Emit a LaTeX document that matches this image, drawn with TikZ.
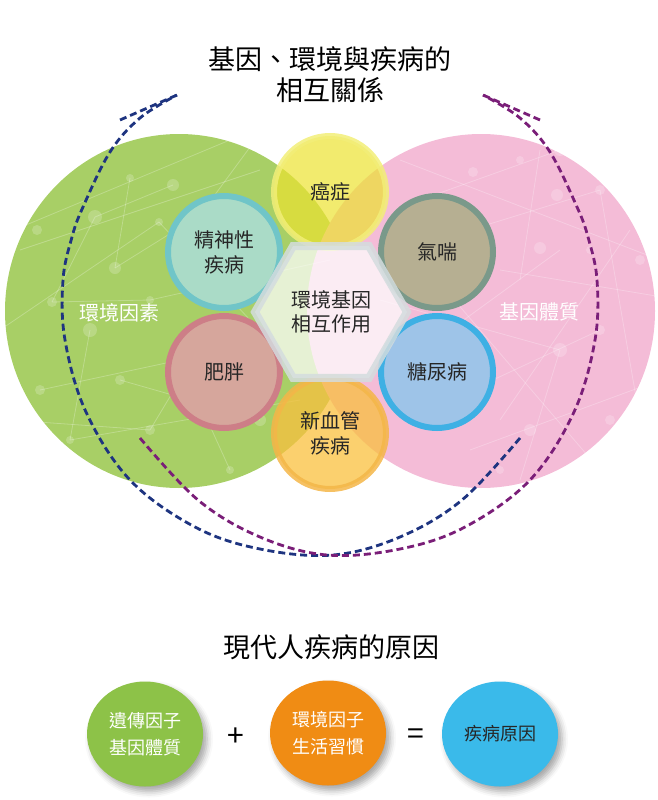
\documentclass[tikz,border=0pt]{standalone}
\usepackage{fontspec}
\setmainfont{Noto Sans CJK TC}
\usepackage{tikz}
\usetikzlibrary{shapes.geometric,shadows.blur}
\definecolor{envgreen}{RGB}{168,207,102}
\definecolor{genepink}{RGB}{244,188,215}
\definecolor{mindfill}{RGB}{170,219,199}
\definecolor{mindring}{RGB}{112,197,200}
\definecolor{asthmafill}{RGB}{182,175,146}
\definecolor{asthmaring}{RGB}{122,153,138}
\definecolor{obesefill}{RGB}{214,166,156}
\definecolor{obesering}{RGB}{205,126,135}
\definecolor{diabfill}{RGB}{158,196,232}
\definecolor{diabring}{RGB}{62,176,228}
\definecolor{cancerfill}{RGB}{236,226,48}
\definecolor{cancerring}{RGB}{242,238,120}
\definecolor{vesselfill}{RGB}{249,192,62}
\definecolor{vesselring}{RGB}{244,182,72}
\definecolor{hexring}{RGB}{212,220,222}
\definecolor{navyline}{RGB}{30,52,128}
\definecolor{plumline}{RGB}{122,30,120}
\definecolor{genecause}{RGB}{141,194,72}
\definecolor{lifecause}{RGB}{240,140,20}
\definecolor{sickcause}{RGB}{58,186,234}

\begin{document}
\begin{tikzpicture}[x=1pt,y=-1pt,
  disease/.style={circle,minimum size=112pt,inner sep=0pt,line width=6pt,
    font=\fontsize{20}{25}\selectfont,align=center,text=black!85},
  cause/.style={ellipse,minimum width=116pt,minimum height=105pt,inner sep=0pt,
    font=\fontsize{18}{27}\selectfont,align=center,
    blur shadow={shadow xshift=4pt,shadow yshift=-5pt,shadow blur radius=6pt,shadow opacity=35}},
  cycleline/.style={dash pattern=on 7pt off 4pt,line width=2.8pt},
  netline/.style={white,opacity=.25,line width=.8pt},
  bigtitle/.style={font=\fontsize{27}{31}\selectfont,align=center}]
\useasboundingbox (0,0) rectangle (658,800);
%\fill[white] (0,0) rectangle (658,800);

\node[bigtitle] (title) at (330,75) {基因、環境與疾病的\\相互關係};

% the two backgrounds
\fill[envgreen] (179,311) ellipse [x radius=174, y radius=177];
\fill[genepink] (481,311) ellipse [x radius=174, y radius=177];
\begin{scope}
\clip (179,311) ellipse [x radius=174, y radius=177];
\foreach \xa/\ya/\xb/\yb in {-10/240/230/140, 0/330/159/222, 20/250/260/170,
  52/302/95/217, 95/217/173/185, 130/178/115/268, 115/268/200/215,
  159/222/250/320, 52/302/150/300, 150/300/330/260, 40/390/180/360,
  90/330/70/440, 120/380/260/420, 180/360/230/470, 70/440/300/400,
  10/420/150/430, 210/330/150/430, 200/215/270/120}
  \draw[netline] (\xa,\ya) -- (\xb,\yb);
\foreach \x/\y/\r in {37/230/5, 95/217/7, 130/178/4, 173/185/6, 159/222/4,
  115/268/6, 52/302/5, 150/300/4, 90/330/7, 120/380/5, 180/360/6, 70/440/4,
  150/430/5, 230/470/4, 260/420/6, 40/390/5, 200/215/5}
  \fill[white,opacity=.2] (\x,\y) circle (\r);
\end{scope}
\begin{scope}
\clip (481,311) ellipse [x radius=174, y radius=177];
\foreach \xa/\ya/\xb/\yb in {400/160/660/260, 420/200/560/150, 470/230/600/190,
  500/270/680/300, 380/300/560/350, 540/150/520/280, 600/190/640/420,
  450/400/600/330, 470/450/660/380, 520/480/560/350, 560/250/450/330,
  420/260/600/470, 630/230/500/420}
  \draw[netline] (\xa,\ya) -- (\xb,\yb);
\foreach \x/\y/\r in {560/150/6, 600/190/5, 473/172/5, 520/160/4, 557/195/6,
  540/248/6, 560/350/7, 600/330/5, 450/400/4, 530/430/6, 610/420/5,
  640/260/5, 420/260/4, 500/470/4, 590/250/4}
  \fill[white,opacity=.2] (\x,\y) circle (\r);
\end{scope}

\node[white,font=\fontsize{20}{25}\selectfont] (env) at (119,313) {環境因素};
\node[white,font=\fontsize{20}{25}\selectfont] (gene) at (539,312) {基因體質};

% dashed cycle
\coordinate (navystart) at (520,438);
\coordinate (navytip) at (177,95);
\coordinate (navybarb) at (120,120);
\coordinate (plumstart) at (140,438);
\coordinate (plumtip) at (483,95);
\coordinate (plumbarb) at (540,120);
\draw[cycleline,navyline] plot[smooth,tension=.6] coordinates {(navystart) (462,500)
  (400,537) (333,555) (260,549) (195,527) (130,480) (86,412) (65,340) (63,280)
  (72,237) (83,207) (110,152) (140,118) (navytip)};
\draw[cycleline,navyline] (navybarb) -- (navytip);
\draw[cycleline,plumline] plot[smooth,tension=.6] coordinates {(plumstart) (198,500)
  (260,537) (327,555) (400,549) (465,527) (530,480) (574,412) (595,340) (597,280)
  (588,237) (577,207) (550,152) (520,118) (plumtip)};
\draw[cycleline,plumline] (plumbarb) -- (plumtip);

% diseases
\node[disease,fill=mindfill,draw=mindring] (mind) at (224,252) {精神性\\疾病};
\node[disease,fill=asthmafill,draw=asthmaring] (asthma) at (437,252) {氣喘};
\node[disease,fill=obesefill,draw=obesering] (obese) at (224,372) {肥胖};
\node[disease,fill=diabfill,draw=diabring] (diabetes) at (437,372) {糖尿病};
\node[disease,fill=cancerfill,fill opacity=.7,draw=cancerring,draw opacity=.85,
  text opacity=1] (cancer) at (330,192) {癌症};
\node[disease,fill=vesselfill,fill opacity=.75,draw=vesselring,draw opacity=.85,
  text opacity=1] (vessel) at (330,433) {新血管\\疾病};

\node[regular polygon,regular polygon sides=6,minimum size=152pt,inner sep=0pt,
  draw=hexring,draw opacity=.85,line width=8pt,fill=white,fill opacity=.72,
  text opacity=1,font=\fontsize{20}{24}\selectfont,align=center,text=black!85]
  (core) at (331,312) {環境基因\\相互作用};

% causes
\node[bigtitle] (causetitle) at (331,647) {現代人疾病的原因};
\node[cause,fill=genecause,text=white] (inherit) at (145,734) {遺傳因子\\基因體質};
\node[font=\fontsize{30}{30}\selectfont] (plus) at (236,737) {+};
\node[cause,fill=lifecause,text=white] (habit) at (328,733) {環境因子\\生活習慣};
\node[font=\fontsize{30}{30}\selectfont] (equal) at (416,737) {=};
\node[cause,fill=sickcause,text=black!85] (result) at (500,734) {疾病原因};
\end{tikzpicture}
\end{document}
